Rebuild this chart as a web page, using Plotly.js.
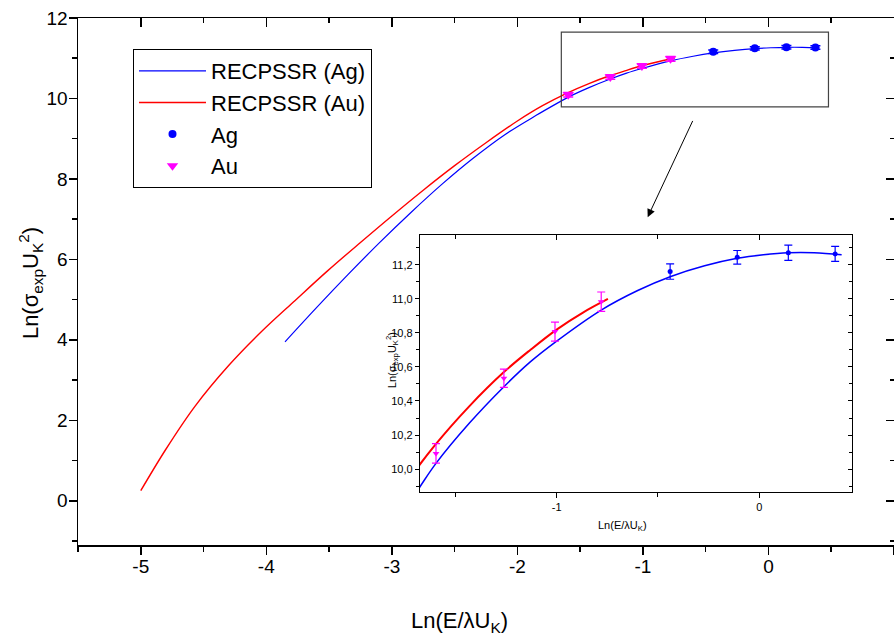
<!DOCTYPE html>
<html>
<head>
<meta charset="utf-8">
<script src="https://cdn.plot.ly/plotly-3.0.1.min.js"></script>
<style>html,body{margin:0;padding:0;background:#fff;}#chart{width:894px;height:640px;}</style>
</head>
<body>
<div id="chart"></div>
<script>
// RECPSSR theory curves
const agCurveX = [-3.851, -3.6, -3.35, -3.1, -2.85, -2.6, -2.35, -2.1, -1.85, -1.674, -1.595, -1.43, -1.26, -1.13, -1.008, -0.78, -0.6, -0.44, -0.27, -0.109, 0.02, 0.143, 0.27, 0.406];
const agCurveY = [3.95, 4.80, 5.62, 6.41, 7.16, 7.87, 8.52, 9.10, 9.58, 9.896, 10.033, 10.27, 10.484, 10.63, 10.745, 10.935, 11.05, 11.131, 11.195, 11.239, 11.26, 11.272, 11.272, 11.26];
const auCurveX = [-5.0, -4.8, -4.57, -4.3, -4.04, -3.77, -3.51, -3.25, -3.0, -2.75, -2.5, -2.25, -2.0, -1.8, -1.6, -1.43, -1.26, -1.13, -1.0, -0.87, -0.747];
const auCurveY = [0.25, 1.28, 2.34, 3.36, 4.20, 4.98, 5.72, 6.42, 7.08, 7.72, 8.33, 8.90, 9.44, 9.82, 10.14, 10.37, 10.57, 10.70, 10.82, 10.92, 11.0];
// Experimental data
const agX = [-0.44, -0.109, 0.143, 0.374];
const agY = [11.161, 11.245, 11.272, 11.265];
const agErr = [0.045, 0.04, 0.045, 0.044];
const auX = [-1.595, -1.26, -1.008, -0.78];
const auY = [10.092, 10.534, 10.808, 10.984];
const auErr = [0.057, 0.054, 0.056, 0.057];
// Tick settings
const mainXTicks = [-5, -4, -3, -2, -1, 0, 1];
const mainXTickText = ['-5', '-4', '-3', '-2', '-1', '0', '1'];
const mainYTicks = [0, 2, 4, 6, 8, 10, 12];
const insetXTicks = [-1, 0];
const insetXTickText = ['-1', '0'];
const insetYTicks = [10.0, 10.2, 10.4, 10.6, 10.8, 11.0, 11.2];

const BLUE = '#0000ff', RED = '#ff0000', MAG = '#ff00ff';
const FONT = 'Liberation Sans, Arial, sans-serif';

const traces = [
  {x: agCurveX, y: agCurveY, mode: 'lines', name: 'RECPSSR (Ag)', line: {color: BLUE, width: 1.2, shape: 'spline'}, xaxis: 'x', yaxis: 'y'},
  {x: auCurveX, y: auCurveY, mode: 'lines', name: 'RECPSSR (Au)', line: {color: RED, width: 1.4, shape: 'spline'}, xaxis: 'x', yaxis: 'y'},
  {x: agX, y: agY, mode: 'markers', name: 'Ag', marker: {color: BLUE, size: 8, symbol: 'circle'},
   error_y: {type: 'data', array: agErr, color: BLUE, thickness: 1.5, width: 5}, xaxis: 'x', yaxis: 'y'},
  {x: auX, y: auY, mode: 'markers', name: 'Au', marker: {color: MAG, size: 10, symbol: 'triangle-down'},
   error_y: {type: 'data', array: auErr, color: MAG, thickness: 1.5, width: 5}, xaxis: 'x', yaxis: 'y'},
  // mirror axes (inside ticks) for main
  {x: [], y: [], xaxis: 'x3', yaxis: 'y3', showlegend: false, hoverinfo: 'skip'},
  // inset
  {x: agCurveX, y: agCurveY, mode: 'lines', showlegend: false, line: {color: BLUE, width: 1.5, shape: 'spline'}, xaxis: 'x2', yaxis: 'y2'},
  {x: auCurveX, y: auCurveY, mode: 'lines', showlegend: false, line: {color: RED, width: 2, shape: 'spline'}, xaxis: 'x2', yaxis: 'y2'},
  {x: agX, y: agY, mode: 'markers', showlegend: false, marker: {color: BLUE, size: 5, symbol: 'circle'},
   error_y: {type: 'data', array: agErr, color: BLUE, thickness: 1.2, width: 4}, xaxis: 'x2', yaxis: 'y2'},
  {x: auX, y: auY, mode: 'markers', showlegend: false, marker: {color: MAG, size: 6, symbol: 'triangle-down'},
   error_y: {type: 'data', array: auErr, color: MAG, thickness: 1.2, width: 4}, xaxis: 'x2', yaxis: 'y2'},
  {x: [], y: [], xaxis: 'x4', yaxis: 'y4', showlegend: false, hoverinfo: 'skip'}
];

const axBase = {showgrid: false, zeroline: false, showline: true, linecolor: '#000', linewidth: 1.5,
  tickcolor: '#000', tickwidth: 1.5, ticks: 'outside', tickfont: {family: FONT, size: 19, color: '#000'}};
const inBase = {showgrid: false, zeroline: false, showline: true, linecolor: '#000', linewidth: 1.2,
  tickcolor: '#000', tickwidth: 1, ticks: 'outside', tickfont: {family: FONT, size: 11, color: '#000'}};

const mainXRange = [-5.5, 1.0], mainYRange = [-1.1, 12];
const insetXRange = [-1.674, 0.457], insetYRange = [9.865, 11.376];
const insetXDomain = [0.4191, 0.9485], insetYDomain = [0.1006, 0.5882];

const layout = {
  width: 894, height: 640,
  margin: {l: 78, r: 0, t: 18, b: 95},
  paper_bgcolor: '#fff', plot_bgcolor: '#fff',
  separators: ',.',
  font: {family: FONT, color: '#000'},
  showlegend: true,
  legend: {x: 0.0674, y: 0.941, xanchor: 'left', yanchor: 'top', bgcolor: '#fff', bordercolor: '#000', borderwidth: 1,
    font: {family: FONT, size: 22, color: '#000'}, itemwidth: 67, tracegroupgap: 0},
  xaxis: Object.assign({}, axBase, {domain: [0, 1], anchor: 'y', range: mainXRange, tickmode: 'array', tickvals: mainXTicks, ticktext: mainXTickText,
    ticklen: 8, ticklabelstandoff: -4,
    minor: {dtick: 0.5, tick0: 0, ticklen: 5, ticks: 'outside', tickcolor: '#000', tickwidth: 1.5}}),
  yaxis: Object.assign({}, axBase, {domain: [0, 1], anchor: 'x', range: mainYRange, tickmode: 'array', tickvals: mainYTicks, ticklen: 8,
    ticklabelstandoff: -3,
    minor: {dtick: 1, tick0: 0, ticklen: 5, ticks: 'outside', tickcolor: '#000', tickwidth: 1.5}}),
  xaxis3: Object.assign({}, axBase, {overlaying: 'x', side: 'top', anchor: 'y', range: mainXRange, tickmode: 'array', tickvals: mainXTicks,
    ticks: 'inside', ticklen: 9, showticklabels: false,
    minor: {dtick: 0.5, tick0: 0, ticklen: 5, ticks: 'inside', tickcolor: '#000', tickwidth: 1.5}}),
  yaxis3: Object.assign({}, axBase, {overlaying: 'y', side: 'right', anchor: 'x', range: mainYRange, tickmode: 'array', tickvals: mainYTicks,
    ticks: 'inside', ticklen: 8, showticklabels: false,
    minor: {dtick: 1, tick0: 0, ticklen: 4, ticks: 'inside', tickcolor: '#000', tickwidth: 1.5}}),
  xaxis2: Object.assign({}, inBase, {domain: insetXDomain, anchor: 'y2', range: insetXRange, tickmode: 'array', tickvals: insetXTicks, ticktext: insetXTickText,
    ticklen: 5,
    minor: {dtick: 0.5, tick0: 0, ticklen: 4, ticks: 'outside', tickcolor: '#000', tickwidth: 1}}),
  yaxis2: Object.assign({}, inBase, {domain: insetYDomain, anchor: 'x2', range: insetYRange, tickmode: 'array', tickvals: insetYTicks, tickformat: '.1f', ticklen: 4,
    minor: {dtick: 0.1, tick0: 0, ticklen: 3, ticks: 'outside', tickcolor: '#000', tickwidth: 1}}),
  xaxis4: Object.assign({}, inBase, {overlaying: 'x2', side: 'top', anchor: 'y2', range: insetXRange, tickmode: 'array', tickvals: insetXTicks,
    ticks: 'inside', ticklen: 5, showticklabels: false,
    minor: {dtick: 0.5, tick0: 0, ticklen: 4, ticks: 'inside', tickcolor: '#000', tickwidth: 1}}),
  yaxis4: Object.assign({}, inBase, {overlaying: 'y2', side: 'right', anchor: 'x2', range: insetYRange, tickmode: 'array', tickvals: insetYTicks,
    ticks: 'inside', ticklen: 4, showticklabels: false,
    minor: {dtick: 0.1, tick0: 0, ticklen: 3, ticks: 'inside', tickcolor: '#000', tickwidth: 1}}),
  shapes: [
    {type: 'rect', xref: 'x', yref: 'y', x0: -1.65, x1: 0.478, y0: 9.79, y1: 11.65, line: {color: '#444', width: 1.2}, fillcolor: 'rgba(0,0,0,0)'}
  ],
  annotations: [
    {xref: 'paper', yref: 'paper', x: 0.467, y: -0.146, xanchor: 'center', yanchor: 'middle', showarrow: false,
     text: 'Ln(E/λU<sub>K</sub>)', font: {family: FONT, size: 22, color: '#000'}},
    {xref: 'paper', yref: 'paper', x: -0.0588, y: 0.497, xanchor: 'center', yanchor: 'middle', showarrow: false, textangle: -90,
     text: 'Ln(σ<sub>exp</sub>U<sub>K</sub><sup>2</sup>)', font: {family: FONT, size: 22, color: '#000'}},
    {xref: 'paper', yref: 'paper', x: 0.385, y: 0.351, xanchor: 'center', yanchor: 'middle', showarrow: false, textangle: -90,
     text: 'Ln(σ<sub>exp</sub>U<sub>K</sub><sup>2</sup>)', font: {family: FONT, size: 11, color: '#000'}},
    {xref: 'paper', yref: 'paper', x: 0.667, y: 0.036, xanchor: 'center', yanchor: 'middle', showarrow: false,
     text: 'Ln(E/λU<sub>K</sub>)', font: {family: FONT, size: 11, color: '#000'}},
    {xref: 'x', yref: 'y', x: -0.962, y: 7.05, ax: 45.7, ay: -97.7, text: '', showarrow: true,
     arrowhead: 2, arrowsize: 1.6, arrowwidth: 1, arrowcolor: '#000', standoff: 0}
  ]
};

Plotly.newPlot('chart', traces, layout, {displayModeBar: false, staticPlot: true});
</script>
</body>
</html>
